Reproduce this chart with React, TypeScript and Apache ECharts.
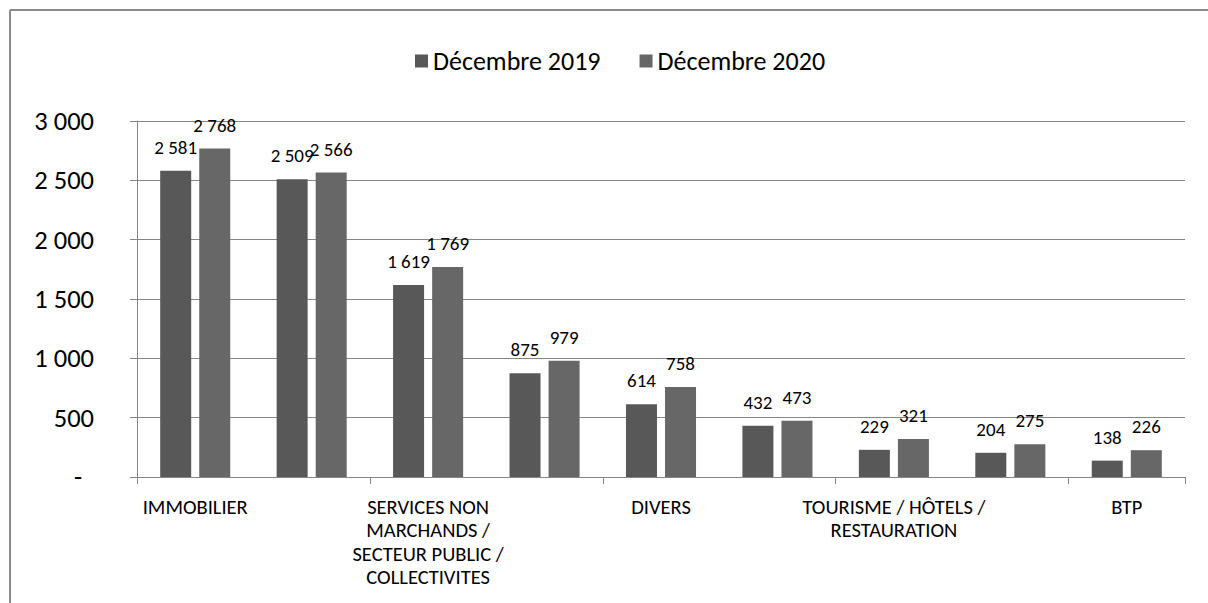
import React, { useEffect, useRef } from "react";
import * as echarts from "echarts";

const categories = [
  "IMMOBILIER",
  "COMMERCE",
  "SERVICES NON\nMARCHANDS /\nSECTEUR PUBLIC /\nCOLLECTIVITES",
  "INDUSTRIE",
  "DIVERS",
  "TRANSPORTS",
  "TOURISME / HÔTELS /\nRESTAURATION",
  "AGRICULTURE",
  "BTP",
];
const series2019 = [2581, 2509, 1619, 875, 614, 432, 229, 204, 138];
const series2020 = [2768, 2566, 1769, 979, 758, 473, 321, 275, 226];
const seriesNames = ["Décembre 2019", "Décembre 2020"];
const yMin = 0;
const yMax = 3000;
const yInterval = 500;

const FONT = "Carlito, Calibri, Lato, sans-serif";

function fmt(v: number): string {
  return String(Math.round(v)).replace(/\B(?=(\d{3})+(?!\d))/g, " ");
}

export default function App() {
  const ref = useRef<HTMLDivElement>(null);
  useEffect(() => {
    if (!ref.current) return;
    const chart = echarts.init(ref.current, undefined, { renderer: "svg" });
    const axisColor = "#868686";
    const labelCommon = {
      show: true,
      position: "top" as const,
      distance: 14,
      color: "#000",
      fontFamily: FONT,
      fontSize: 19,
      formatter: (p: any) => fmt(p.value),
    };
    chart.setOption({
      animation: false,
      backgroundColor: "#fff",
      textStyle: { fontFamily: FONT },
      graphic: [
        {
          type: "line",
          shape: { x1: 10, y1: 10, x2: 1400, y2: 10 },
          style: { stroke: "#8c8c8c", lineWidth: 2 },
          silent: true,
        },
        {
          type: "line",
          shape: { x1: 10, y1: 10, x2: 10, y2: 900 },
          style: { stroke: "#8c8c8c", lineWidth: 2 },
          silent: true,
        },
      ],
      legend: {
        left: 410,
        top: 43,
        itemWidth: 13,
        itemHeight: 13,
        itemGap: 39,
        icon: "rect",
        textStyle: { fontFamily: FONT, fontSize: 26, color: "#000" },
        data: seriesNames,
      },
      grid: { left: 137, right: 23, top: 121, bottom: 126, containLabel: false },
      xAxis: {
        type: "category",
        data: categories,
        axisLine: { lineStyle: { color: axisColor, width: 1 } },
        axisTick: { show: true, length: 7, lineStyle: { color: axisColor } },
        axisLabel: {
          interval: 1,
          margin: 18,
          color: "#000",
          fontFamily: FONT,
          fontSize: 20.5,
          lineHeight: 23.5,
          align: "center",
        },
      },
      yAxis: {
        type: "value",
        min: yMin,
        max: yMax,
        interval: yInterval,
        axisLine: { show: true, lineStyle: { color: axisColor, width: 1 } },
        axisTick: { show: true, length: 7, lineStyle: { color: axisColor } },
        splitLine: { show: true, lineStyle: { color: axisColor, width: 1 } },
        axisLabel: {
          margin: 43,
          color: "#000",
          fontFamily: FONT,
          fontSize: 26.5,
          formatter: (v: number) => (v === 0 ? "{z|-}" : fmt(v)),
          rich: {
            z: { fontFamily: FONT, fontSize: 26.5, color: "#000", padding: [0, 12, 0, 0] },
          },
        },
      },
      series: [
        {
          name: seriesNames[0],
          type: "bar",
          data: series2019,
          barWidth: 31,
          barGap: "26%",
          itemStyle: { color: "#585858" },
          label: labelCommon,
        },
        {
          name: seriesNames[1],
          type: "bar",
          data: series2020,
          barWidth: 31,
          barGap: "26%",
          itemStyle: { color: "#676767" },
          label: labelCommon,
        },
      ],
    });
    return () => chart.dispose();
  }, []);
  return (
    <div
      ref={ref}
      style={{ position: "fixed", left: 0, top: 0, width: 1208, height: 603 }}
    />
  );
}
